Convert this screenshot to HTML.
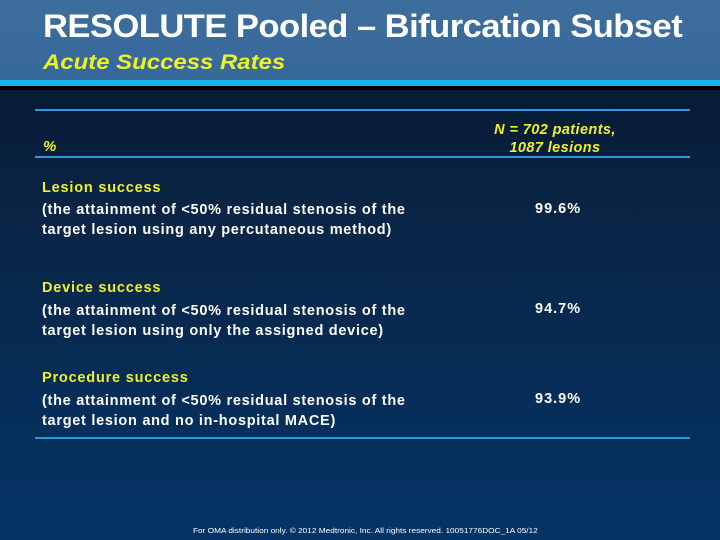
<!DOCTYPE html>
<html><head><meta charset="utf-8"><style>
body{margin:0;width:720px;height:540px;overflow:hidden;font-family:"Liberation Sans",Arial,sans-serif;}
#slide{position:relative;width:720px;height:540px;background:linear-gradient(#061a33 85px,#0a2444 200px,#043466 540px);}
#hdr{position:absolute;left:0;top:0;width:720px;height:80px;background:linear-gradient(#3d6e9d,#36689a);}
#cyan{position:absolute;left:0;top:80px;width:720px;height:6px;background:#1eb2e6;}
#shadow{position:absolute;left:0;top:86px;width:720px;height:4px;background:#000;}
.t{position:absolute;white-space:nowrap;transform-origin:0 0;}
.rule{position:absolute;left:35px;width:655px;height:2px;background:#2a9ad8;}
.y{color:#f0f028;font-weight:bold;font-style:italic;}
.w{color:#fff;font-weight:bold;font-size:14.5px;line-height:20px;letter-spacing:0.72px;}
.lab{color:#f0f028;font-weight:bold;font-size:14.5px;letter-spacing:0.8px;}
</style></head><body>
<div id="slide">
<div id="hdr"></div>
<div id="cyan"></div>
<div id="shadow"></div>
<div class="t" style="left:43px;top:8px;color:#fff;font-weight:bold;font-size:32px;letter-spacing:-0.5px;transform:scaleX(1.08);">RESOLUTE Pooled – Bifurcation Subset</div>
<div class="t y" style="left:43px;top:51px;font-size:21px;transform:scaleX(1.14);">Acute Success Rates</div>
<div class="rule" style="top:109px"></div>
<div class="t y" style="left:43px;top:138px;font-size:15px;">%</div>
<div class="t y" style="left:470px;top:121px;width:170px;text-align:center;font-size:14.5px;line-height:18px;letter-spacing:0.4px;">N = 702 patients,<br>1087 lesions</div>
<div class="rule" style="top:156px"></div>

<div class="t lab" style="left:42px;top:180px;">Lesion success</div>
<div class="t w" style="left:42px;top:200px;">(the attainment of &lt;50% residual stenosis of the<br>target lesion using any percutaneous method)</div>
<div class="t w" style="left:535px;top:199px;letter-spacing:1px;">99.6%</div>

<div class="t lab" style="left:42px;top:280px;">Device success</div>
<div class="t w" style="left:42px;top:301px;">(the attainment of &lt;50% residual stenosis of the<br>target lesion using only the assigned device)</div>
<div class="t w" style="left:535px;top:299px;letter-spacing:1px;">94.7%</div>

<div class="t lab" style="left:42px;top:370px;">Procedure success</div>
<div class="t w" style="left:42px;top:391px;">(the attainment of &lt;50% residual stenosis of the<br>target lesion and no in-hospital MACE)</div>
<div class="t w" style="left:535px;top:389px;letter-spacing:1px;">93.9%</div>

<div class="rule" style="top:437px"></div>
<div class="t" style="left:193px;top:528px;color:#fff;font-size:7px;transform:scaleX(1.18);">For OMA distribution only. © 2012 Medtronic, Inc. All rights reserved.  10051776DOC_1A 05/12</div>
</div>
</body></html>
